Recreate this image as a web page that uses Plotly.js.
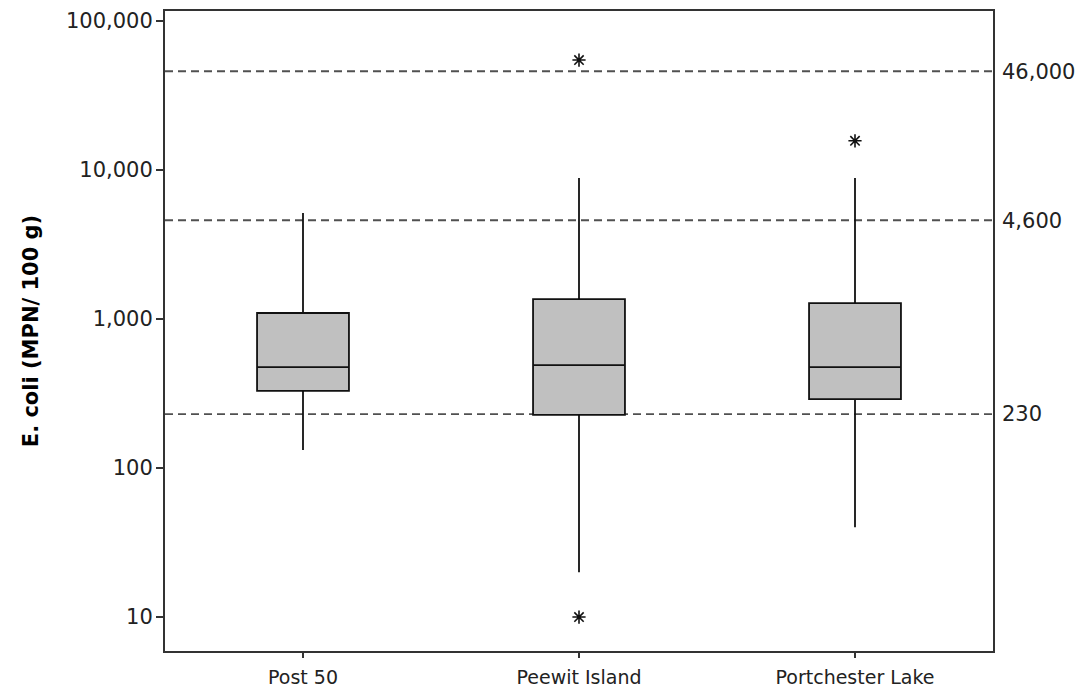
<!DOCTYPE html>
<html>
<head>
<meta charset="utf-8">
<script src="https://cdn.plot.ly/plotly-3.0.1.min.js"></script>
<style>html,body{margin:0;padding:0;background:#fff;}#chart{width:1086px;height:693px;}</style>
</head>
<body>
<div id="chart"></div>
<script>
// Data (E. coli, MPN/100 g)
const sites = ["Post 50", "Peewit Island", "Portchester Lake"];
const lowerWhisker = [132, 20, 40];
const q1 = [329, 227, 290];
const median = [476, 491, 476];
const q3 = [1097, 1361, 1279];
const upperWhisker = [5140, 8830, 8830];
const outlierSite = ["Peewit Island", "Peewit Island", "Portchester Lake"];
const outlierValue = [54700, 10, 15700];
const refLines = [46000, 4600, 230];
const refLabels = ["46,000", "4,600", "230"];
const leftTicks = [10, 100, 1000, 10000, 100000];
const leftTickText = ["10", "100", "1,000", "10,000", "100,000"];

const yRange = [0.772, 5.067];
const font = "DejaVu Sans, Verdana, sans-serif";

const traces = [
  {
    type: "box",
    x: sites,
    q1: q1, median: median, q3: q3,
    lowerfence: lowerWhisker, upperfence: upperWhisker,
    fillcolor: "#c0c0c0",
    line: {color: "#111", width: 1.8},
    whiskerwidth: 0,
    width: 0.333,
    boxpoints: false,
    hoverinfo: "skip",
    showlegend: false
  },
  {
    type: "scatter", mode: "markers",
    x: outlierSite, y: outlierValue,
    marker: {symbol: "asterisk-open", size: 11, color: "#111", line: {color: "#111", width: 1.6}},
    showlegend: false
  },
  {
    type: "scatter", mode: "markers",
    x: [], y: [], yaxis: "y2", showlegend: false
  }
];

const shapes = refLines.map(v => ({
  type: "line", xref: "paper", yref: "y",
  x0: 0, x1: 1, y0: v, y1: v,
  line: {color: "#505050", width: 1.8, dash: "8px,5px"},
  layer: "below"
}));

const layout = {
  width: 1086, height: 693,
  margin: {l: 165, r: 93, t: 11, b: 42},
  paper_bgcolor: "#fff", plot_bgcolor: "#fff",
  font: {family: font, size: 18, color: "#222"},
  showlegend: false,
  xaxis: {
    type: "category",
    range: [-0.5, 2.5],
    showline: true, linecolor: "#333", linewidth: 2, mirror: true,
    ticks: "outside", ticklen: 5, tickcolor: "#333", tickwidth: 1.5,
    ticklabelstandoff: 3,
    showgrid: false, zeroline: false,
    tickfont: {family: font, size: 19, color: "#222"}
  },
  yaxis: {
    type: "log",
    range: yRange,
    tickvals: leftTicks, ticktext: leftTickText,
    showline: true, linecolor: "#333", linewidth: 2, mirror: true,
    ticks: "outside", ticklen: 7, tickcolor: "#333", tickwidth: 1.5,
    ticklabelstandoff: -1,
    showgrid: false, zeroline: false,
    tickfont: {family: font, size: 21, color: "#222"},
    title: {text: "<b>E. coli (MPN/ 100 g)</b>", font: {family: font, size: 21, color: "#000"}, standoff: 22}
  },
  yaxis2: {
    type: "log",
    overlaying: "y", side: "right",
    range: yRange,
    tickvals: refLines, ticktext: refLabels,
    showline: false, ticks: "", showgrid: false, zeroline: false,
    ticklabelstandoff: 8,
    tickfont: {family: font, size: 21, color: "#222"}
  },
  shapes: shapes
};

Plotly.newPlot("chart", traces, layout, {displayModeBar: false, staticPlot: true});
</script>
</body>
</html>
